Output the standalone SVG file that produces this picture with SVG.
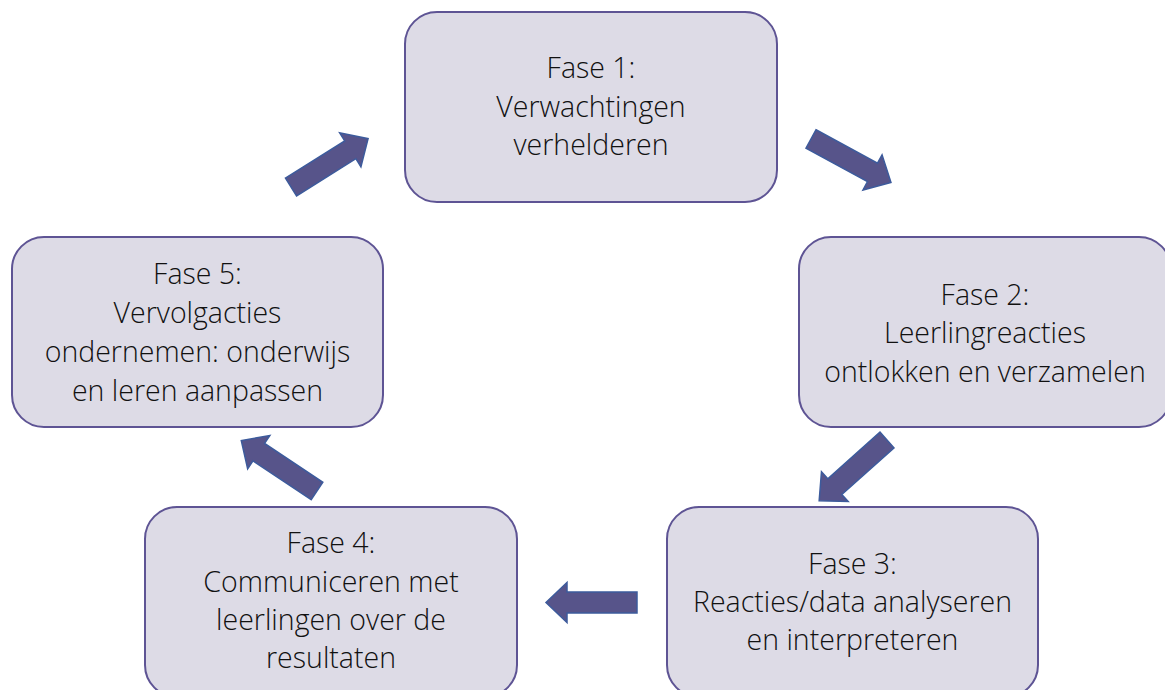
<svg xmlns="http://www.w3.org/2000/svg" xmlns:xlink="http://www.w3.org/1999/xlink" width="1165" height="690" viewBox="0 0 1165 690">
<style>
.box{fill:#dddbe6;stroke:#5e5494;stroke-width:2}
.lbl{font-family:"Open Sans","Liberation Sans",sans-serif;font-weight:300;font-size:28.5px;fill:#111111;text-anchor:middle}
.arr{fill:#57548a;stroke:#3d5b9c;stroke-width:1.5;stroke-linejoin:miter}
</style>
<defs>
<polygon id="arrow" points="0,-10.5 70,-10.5 70,-20 91,0 70,20 70,10.5 0,10.5"/>
</defs>
<rect width="1165" height="690" fill="#ffffff"/>
<g id="connectors">
<use xlink:href="#arrow" class="arr" transform="translate(291,187) rotate(-32.1)"/>
<use xlink:href="#arrow" class="arr" transform="translate(811,139) rotate(28.5)"/>
<use xlink:href="#arrow" class="arr" transform="translate(887,440) rotate(138.2)"/>
<use xlink:href="#arrow" class="arr" transform="translate(637,602.5) rotate(180)"/>
<use xlink:href="#arrow" class="arr" transform="translate(317,491) rotate(-146.3)"/>
</g>
<g id="fase1">
<rect class="box" x="405" y="12" width="372" height="190" rx="32"/>
<text class="lbl" x="591" y="78">Fase 1:</text>
<text class="lbl" x="591" y="117">Verwachtingen</text>
<text class="lbl" x="591" y="155">verhelderen</text>
</g>
<g id="fase2">
<rect class="box" x="799" y="237" width="372" height="190" rx="32"/>
<text class="lbl" x="985" y="305">Fase 2:</text>
<text class="lbl" x="985" y="343">Leerlingreacties</text>
<text class="lbl" x="985" y="382">ontlokken en verzamelen</text>
</g>
<g id="fase3">
<rect class="box" x="667" y="507" width="371" height="190" rx="32"/>
<text class="lbl" x="852.5" y="574">Fase 3:</text>
<text class="lbl" x="852.5" y="612">Reacties/data analyseren</text>
<text class="lbl" x="852.5" y="650">en interpreteren</text>
</g>
<g id="fase4">
<rect class="box" x="145" y="507" width="372" height="190" rx="32"/>
<text class="lbl" x="331" y="553">Fase 4:</text>
<text class="lbl" x="331" y="592">Communiceren met</text>
<text class="lbl" x="331" y="630">leerlingen over de</text>
<text class="lbl" x="331" y="668">resultaten</text>
</g>
<g id="fase5">
<rect class="box" x="12" y="237" width="371" height="190" rx="32"/>
<text class="lbl" x="197.5" y="284">Fase 5:</text>
<text class="lbl" x="197.5" y="323">Vervolgacties</text>
<text class="lbl" x="197.5" y="362">ondernemen: onderwijs</text>
<text class="lbl" x="197.5" y="401">en leren aanpassen</text>
</g>
</svg>
